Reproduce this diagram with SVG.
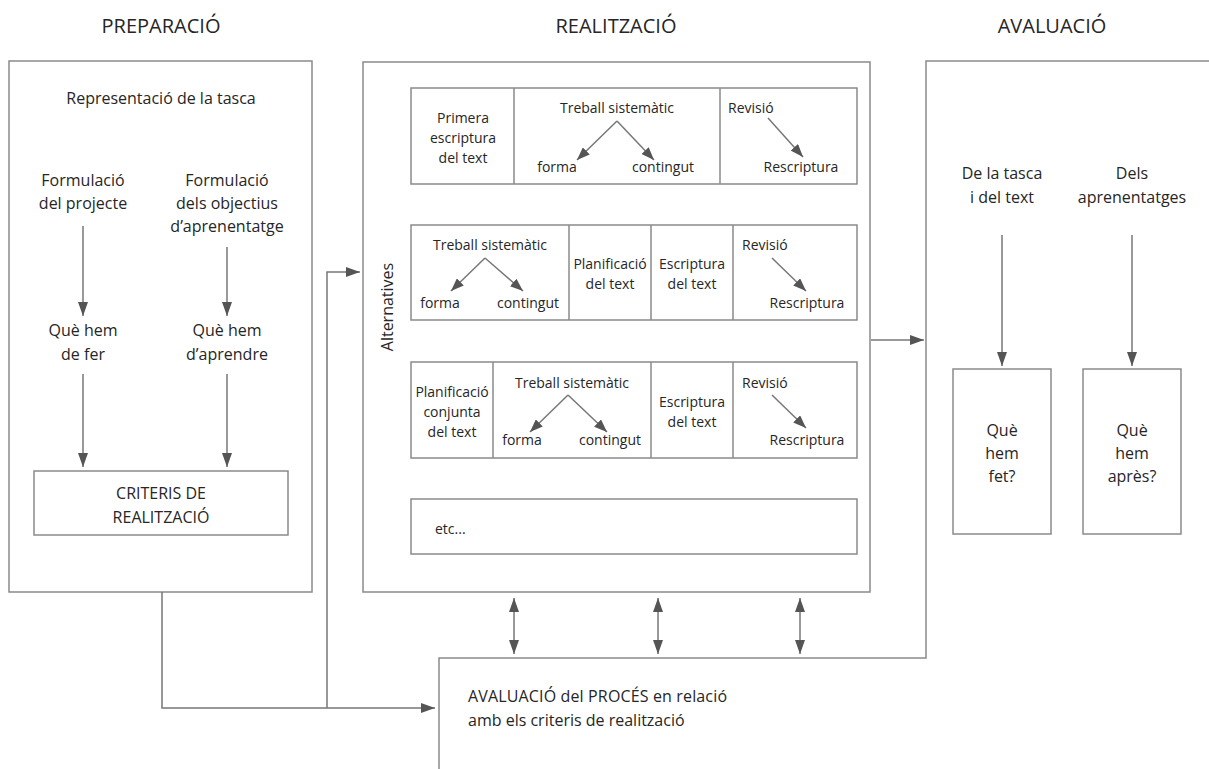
<svg xmlns="http://www.w3.org/2000/svg" width="1209" height="769" viewBox="0 0 1209 769">
<defs>
<style>
.box{fill:none;stroke:#8a8a8a;stroke-width:1.5}
.ln{fill:none;stroke:#777;stroke-width:1.5}
text{font-family:"Open Sans","DejaVu Sans",sans-serif;fill:#262626}
.t{font-size:20px;text-anchor:middle}
.b{font-size:16px;text-anchor:middle}
.s{font-size:14px;text-anchor:middle}
.sl{font-size:14px}
</style>
<marker id="ah" viewBox="0 0 14 10" refX="14" refY="5" markerWidth="14" markerHeight="10" markerUnits="userSpaceOnUse" orient="auto-start-reverse">
<path d="M0,0 L14,5 L0,10 z" fill="#555"/>
</marker>
<marker id="ahs" viewBox="0 0 13 10" refX="13" refY="5" markerWidth="13" markerHeight="10" markerUnits="userSpaceOnUse" orient="auto">
<path d="M0,0 L13,5 L0,10 z" fill="#555"/>
</marker>
</defs>
<rect width="1209" height="769" fill="#fff"/>

<g id="titles">
<text class="t" x="161" y="33">PREPARACIÓ</text>
<text class="t" x="616" y="33">REALITZACIÓ</text>
<text class="t" x="1052" y="33">AVALUACIÓ</text>
</g>

<g id="preparacio">
<rect class="box" x="9" y="61" width="303" height="531"/>
<text class="b" x="161" y="104">Representació de la tasca</text>
<text class="b" x="83" y="186">Formulació</text>
<text class="b" x="83" y="209">del projecte</text>
<text class="b" x="227" y="186">Formulació</text>
<text class="b" x="227" y="209">dels objectius</text>
<text class="b" x="227" y="232">d’aprenentatge</text>
<text class="b" x="83" y="336">Què hem</text>
<text class="b" x="83" y="360">de fer</text>
<text class="b" x="227" y="336">Què hem</text>
<text class="b" x="227" y="360">d’aprendre</text>
</g>
<g id="criteris">
<rect class="box" x="34" y="471" width="254" height="64"/>
<text class="b" x="161" y="499">CRITERIS DE</text>
<text class="b" x="161" y="523">REALITZACIÓ</text>
</g>

<g id="realitzacio">
<rect class="box" x="363" y="62" width="507" height="530"/>
<text font-size="16" transform="translate(393,307) rotate(-90)" text-anchor="middle">Alternatives</text>
</g>

<g id="alt1">
<rect class="box" x="411" y="88" width="446" height="96"/>
<line class="box" x1="514" y1="88" x2="514" y2="184"/>
<line class="box" x1="720" y1="88" x2="720" y2="184"/>
<text class="s" x="463" y="123">Primera</text>
<text class="s" x="463" y="143">escriptura</text>
<text class="s" x="463" y="163">del text</text>
<text class="s" x="617" y="113">Treball sistemàtic</text>
<text class="s" x="557" y="172">forma</text>
<text class="s" x="663" y="172">contingut</text>
<text class="sl" x="728" y="113">Revisió</text>
<text class="s" x="801" y="172">Rescriptura</text>
</g>

<g id="alt2">
<rect class="box" x="411" y="225" width="446" height="95"/>
<line class="box" x1="569" y1="225" x2="569" y2="320"/>
<line class="box" x1="651" y1="225" x2="651" y2="320"/>
<line class="box" x1="733" y1="225" x2="733" y2="320"/>
<text class="s" x="490" y="250">Treball sistemàtic</text>
<text class="s" x="440" y="308">forma</text>
<text class="s" x="528" y="308">contingut</text>
<text class="s" x="610" y="269">Planificació</text>
<text class="s" x="610" y="289">del text</text>
<text class="s" x="692" y="269">Escriptura</text>
<text class="s" x="692" y="289">del text</text>
<text class="sl" x="742" y="250">Revisió</text>
<text class="s" x="807" y="308">Rescriptura</text>
</g>

<g id="alt3">
<rect class="box" x="411" y="362" width="446" height="96"/>
<line class="box" x1="493" y1="362" x2="493" y2="458"/>
<line class="box" x1="651" y1="362" x2="651" y2="458"/>
<line class="box" x1="733" y1="362" x2="733" y2="458"/>
<text class="s" x="452" y="397">Planificació</text>
<text class="s" x="452" y="417">conjunta</text>
<text class="s" x="452" y="437">del text</text>
<text class="s" x="572" y="388">Treball sistemàtic</text>
<text class="s" x="522" y="445">forma</text>
<text class="s" x="610" y="445">contingut</text>
<text class="s" x="692" y="407">Escriptura</text>
<text class="s" x="692" y="427">del text</text>
<text class="sl" x="742" y="388">Revisió</text>
<text class="s" x="807" y="445">Rescriptura</text>
</g>

<g id="alt4">
<rect class="box" x="411" y="499" width="446" height="55"/>
<text class="sl" x="435" y="534">etc...</text>
</g>

<g id="avaluacio">
<polyline class="box" points="439,769 439,658 926,658 926,61 1209,61"/>
<text class="b" x="1002" y="179">De la tasca</text>
<text class="b" x="1002" y="203">i del text</text>
<text class="b" x="1132" y="179">Dels</text>
<text class="b" x="1132" y="203">aprenentatges</text>
<text font-size="16" x="468" y="702" textLength="259" lengthAdjust="spacing">AVALUACIÓ del PROCÉS en relació</text>
<text font-size="16" x="468" y="726">amb els criteris de realització</text>
</g>
<g id="fet">
<rect class="box" x="953" y="369" width="98" height="165"/>
<text class="b" x="1002" y="436">Què</text>
<text class="b" x="1002" y="459">hem</text>
<text class="b" x="1002" y="482">fet?</text>
</g>
<g id="apres">
<rect class="box" x="1083" y="369" width="98" height="165"/>
<text class="b" x="1132" y="436">Què</text>
<text class="b" x="1132" y="459">hem</text>
<text class="b" x="1132" y="482">après?</text>
</g>

<g id="connectors">
<line class="ln" x1="83" y1="226" x2="83" y2="316" marker-end="url(#ah)"/>
<line class="ln" x1="227" y1="247" x2="227" y2="316" marker-end="url(#ah)"/>
<line class="ln" x1="83" y1="374" x2="83" y2="467" marker-end="url(#ah)"/>
<line class="ln" x1="227" y1="374" x2="227" y2="467" marker-end="url(#ah)"/>
<polyline class="ln" points="162,592 162,708 435,708" marker-end="url(#ah)"/>
<polyline class="ln" points="327,708 327,272 360,272" marker-end="url(#ah)"/>
<line class="ln" x1="871" y1="340" x2="924" y2="340" marker-end="url(#ah)"/>
<line class="ln" x1="514" y1="598" x2="514" y2="654" marker-start="url(#ah)" marker-end="url(#ah)"/>
<line class="ln" x1="658" y1="598" x2="658" y2="654" marker-start="url(#ah)" marker-end="url(#ah)"/>
<line class="ln" x1="800" y1="598" x2="800" y2="654" marker-start="url(#ah)" marker-end="url(#ah)"/>
<line class="ln" x1="1002" y1="235" x2="1002" y2="366" marker-end="url(#ah)"/>
<line class="ln" x1="1132" y1="235" x2="1132" y2="366" marker-end="url(#ah)"/>
<line class="ln" x1="617" y1="121" x2="577" y2="160" marker-end="url(#ahs)"/>
<line class="ln" x1="617" y1="121" x2="654" y2="160" marker-end="url(#ahs)"/>
<line class="ln" x1="768" y1="118" x2="803" y2="157" marker-end="url(#ahs)"/>
<line class="ln" x1="485" y1="258" x2="451" y2="291" marker-end="url(#ahs)"/>
<line class="ln" x1="485" y1="258" x2="523" y2="291" marker-end="url(#ahs)"/>
<line class="ln" x1="772" y1="258" x2="806" y2="291" marker-end="url(#ahs)"/>
<line class="ln" x1="568" y1="395" x2="530" y2="432" marker-end="url(#ahs)"/>
<line class="ln" x1="568" y1="395" x2="607" y2="432" marker-end="url(#ahs)"/>
<line class="ln" x1="772" y1="395" x2="806" y2="428" marker-end="url(#ahs)"/>
</g>
</svg>
